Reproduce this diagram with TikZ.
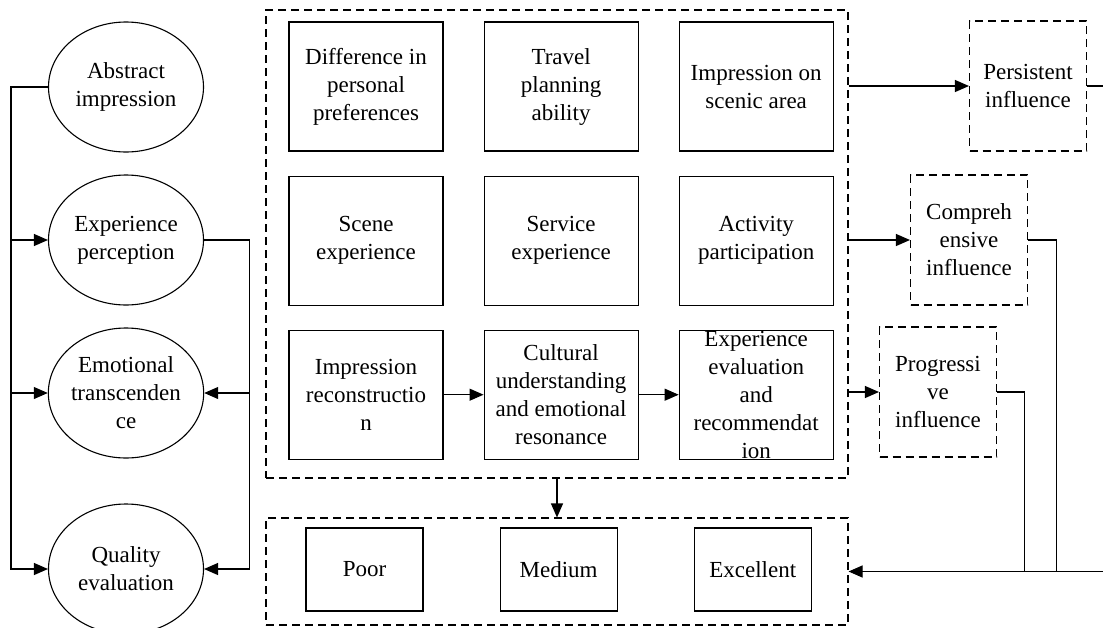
\documentclass[tikz,border=0pt]{standalone}
\usepackage{fontspec}
\setmainfont{Liberation Serif}
\usetikzlibrary{arrows.meta,positioning,shapes.geometric}
\newcommand{\figfont}{\fontsize{23}{28}\selectfont}
\tikzset{
  % Stage oval (left column)
  oval/.style={ellipse,draw,line width=1.1pt,inner sep=0pt,
    minimum width=155pt,minimum height=130pt,
    align=center,font=\figfont},
  % Factor box in the central grid
  gbox/.style={rectangle,draw,line width=1.1pt,inner sep=0pt,
    minimum width=154pt,minimum height=129pt,
    align=center,font=\figfont},
  % Level box (bottom row)
  lbox/.style={rectangle,draw,line width=1.1pt,
    minimum width=117pt,minimum height=83pt,font=\figfont},
  % Influence box (dashed, right column)
  ibox/.style={rectangle,draw,line width=1.1pt,inner sep=0pt,
    dash pattern=on 8pt off 5pt,
    minimum width=117pt,minimum height=130pt,
    align=center,font=\figfont},
  % Dashed group frame
  dframe/.style={rectangle,draw,line width=1.1pt,
    dash pattern=on 8pt off 5pt},
  % Lines and arrows
  ln/.style={line width=1.1pt},
  arr/.style={-{Triangle[length=14pt,width=12pt]},line width=1.1pt},
}
\begin{document}
\begin{tikzpicture}[x=1pt,y=-1pt]
  \useasboundingbox (0,0) rectangle (1103,627);

  % stages
  \node[oval] (abs)  at (126,87)  {Abstract\\impression};
  \node[oval] (expr) at (126,240) {Experience\\perception};
  \node[oval] (emo)  at (126,393) {Emotional\\transcenden\\ce};
  \node[oval] (qual) at (126,569) {Quality\\evaluation};

  % central grid
  \node[dframe,minimum width=582pt,minimum height=468pt] (main) at (557,244) {};
  \node[gbox] (pref) at (366,86.5) {Difference in\\personal\\preferences};
  \node[gbox,right=40pt of pref] (plan) {Travel\\planning\\ability};
  \node[gbox,right=40pt of plan] (scenic) {Impression on\\scenic area};
  \node[gbox,below=24pt of pref] (scene) {Scene\\experience};
  \node[gbox,below=24pt of plan] (serv) {Service\\experience};
  \node[gbox,below=24pt of scenic] (act) {Activity\\participation};
  \node[gbox,below=24pt of scene] (recon) {Impression\\reconstructio\\n};
  \node[gbox,below=24pt of serv] (cult) {Cultural\\understanding\\and emotional\\resonance};
  \node[gbox,below=24pt of act] (eval) {Experience\\evaluation\\and\\recommendat\\ion};

  % result levels
  \node[dframe,minimum width=582pt,minimum height=107pt] (res) at (557,571.5) {};
  \node[lbox] (poor) at (364.5,569.5) {Poor};
  \node[lbox,right=76pt of poor] (med) {Medium};
  \node[lbox,right=76pt of med] (exc) {Excellent};

  % influences
  \node[ibox] (pers) at (1028,86)  {Persistent\\influence};
  \node[ibox] (comp) at (969,240)  {Compreh\\ensive\\influence};
  \node[ibox] (prog) at (938,392)  {Progressi\\ve\\influence};

  % left bus
  \draw[arr] (abs.west) -- ++(-37,0) coordinate (lbus) |- (qual.west);
  \draw[arr] (lbus |- expr.west) -- (expr.west);
  \draw[arr] (lbus |- emo.west) -- (emo.west);

  % right bus
  \draw[arr] (expr.east) -- ++(45,0) coordinate (rbus) |- (qual.east);
  \draw[arr] (rbus |- emo.east) -- (emo.east);

  \foreach \from/\to in {recon/cult,cult/eval}
    \draw[arr] (\from) -- (\to);

  \draw[arr] (main.south) -- (res.north);

  \foreach \to in {pers,comp,prog}
    \draw[arr] (main.east |- \to.west) -- (\to.west);

  % back to levels
  \draw[arr] (pers.east) -- ++(30,0) |- (res.east);
  \draw[ln] (comp.east) -- ++(28,0) coordinate (c1) -- (c1 |- res.east);
  \draw[ln] (prog.east) -- ++(27,0) coordinate (c2) -- (c2 |- res.east);
\end{tikzpicture}
\end{document}
